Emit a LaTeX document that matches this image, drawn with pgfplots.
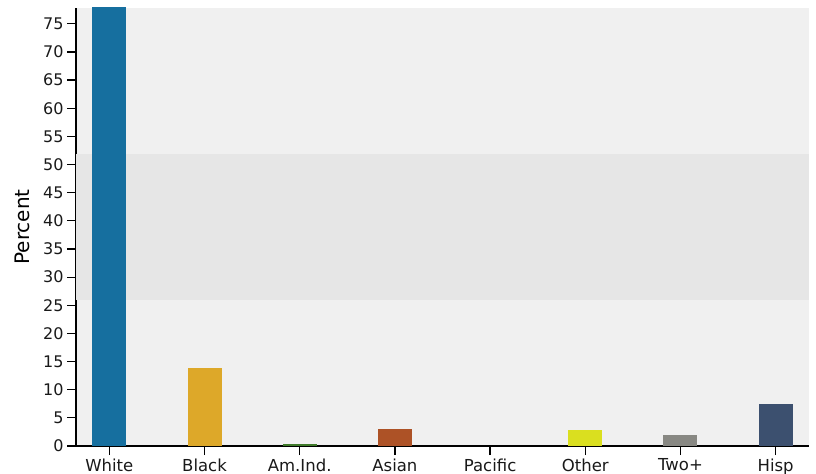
\documentclass[border=0pt]{standalone}
\usepackage{pgfplots}
\pgfplotsset{compat=1.18}
\usepackage{fontspec}
\setmainfont{DejaVu Sans}
\definecolor{bgc}{HTML}{F0F0F0}
\definecolor{bandc}{HTML}{E6E6E6}
\definecolor{cWhite}{HTML}{166F9F}
\definecolor{cBlack}{HTML}{DDA829}
\definecolor{cAmInd}{HTML}{3F7A2A}
\definecolor{cAsian}{HTML}{AD5226}
\definecolor{cPacific}{HTML}{7B3F8F}
\definecolor{cOther}{HTML}{DADF1F}
\definecolor{cTwo}{HTML}{888883}
\definecolor{cHisp}{HTML}{3C506F}
\begin{document}
\begin{tikzpicture}
\useasboundingbox (0,0) rectangle (816bp,474bp);
\begin{axis}[
  at={(76bp,28bp)}, anchor=south west,
  width=733bp, height=438bp, scale only axis,
  xmin=-0.35, xmax=7.35, ymin=0, ymax=77.8,
  axis x line*=bottom, axis y line*=left,
  axis line style={black, line width=1.3bp, -},
  axis background/.style={fill=bgc},
  ytick={0,5,...,75},
  xtick={0,...,7},
  xticklabels={White,Black,Am.Ind.,Asian,Pacific,Other,Two+,Hisp},
  xtick align=outside, ytick align=outside,
  ytick style={black, line width=1.2bp},
  xtick style={black, line width=1.2bp},
  y tick label style={font=\fontsize{16bp}{19bp}\selectfont, color=black!90},
  x tick label style={font=\fontsize{16.5bp}{19bp}\selectfont, color=black!90},
  /pgf/number format/assume math mode=true,
  major tick length=9bp,
  ylabel={Percent},
  every axis y label/.style={at={(axis description cs:0,0.5)}, xshift=-54bp, rotate=90, anchor=center, font=\fontsize{20bp}{23bp}\selectfont},
  bar width=34bp,
]
\fill[bandc] (rel axis cs:0,0.33333) rectangle (rel axis cs:1,0.66667);
\addplot[ybar, bar shift=0pt, fill=cWhite, draw=none] coordinates {(0,80)};
\addplot[ybar, bar shift=0pt, fill=cBlack, draw=none] coordinates {(1,13.9)};
\addplot[ybar, bar shift=0pt, fill=cAmInd, draw=none] coordinates {(2,0.3)};
\addplot[ybar, bar shift=0pt, fill=cAsian, draw=none] coordinates {(3,3.0)};
\addplot[ybar, bar shift=0pt, fill=cPacific, draw=none] coordinates {(4,0.05)};
\addplot[ybar, bar shift=0pt, fill=cOther, draw=none] coordinates {(5,2.8)};
\addplot[ybar, bar shift=0pt, fill=cTwo, draw=none] coordinates {(6,1.95)};
\addplot[ybar, bar shift=0pt, fill=cHisp, draw=none] coordinates {(7,7.45)};
\end{axis}
\end{tikzpicture}
\end{document}
